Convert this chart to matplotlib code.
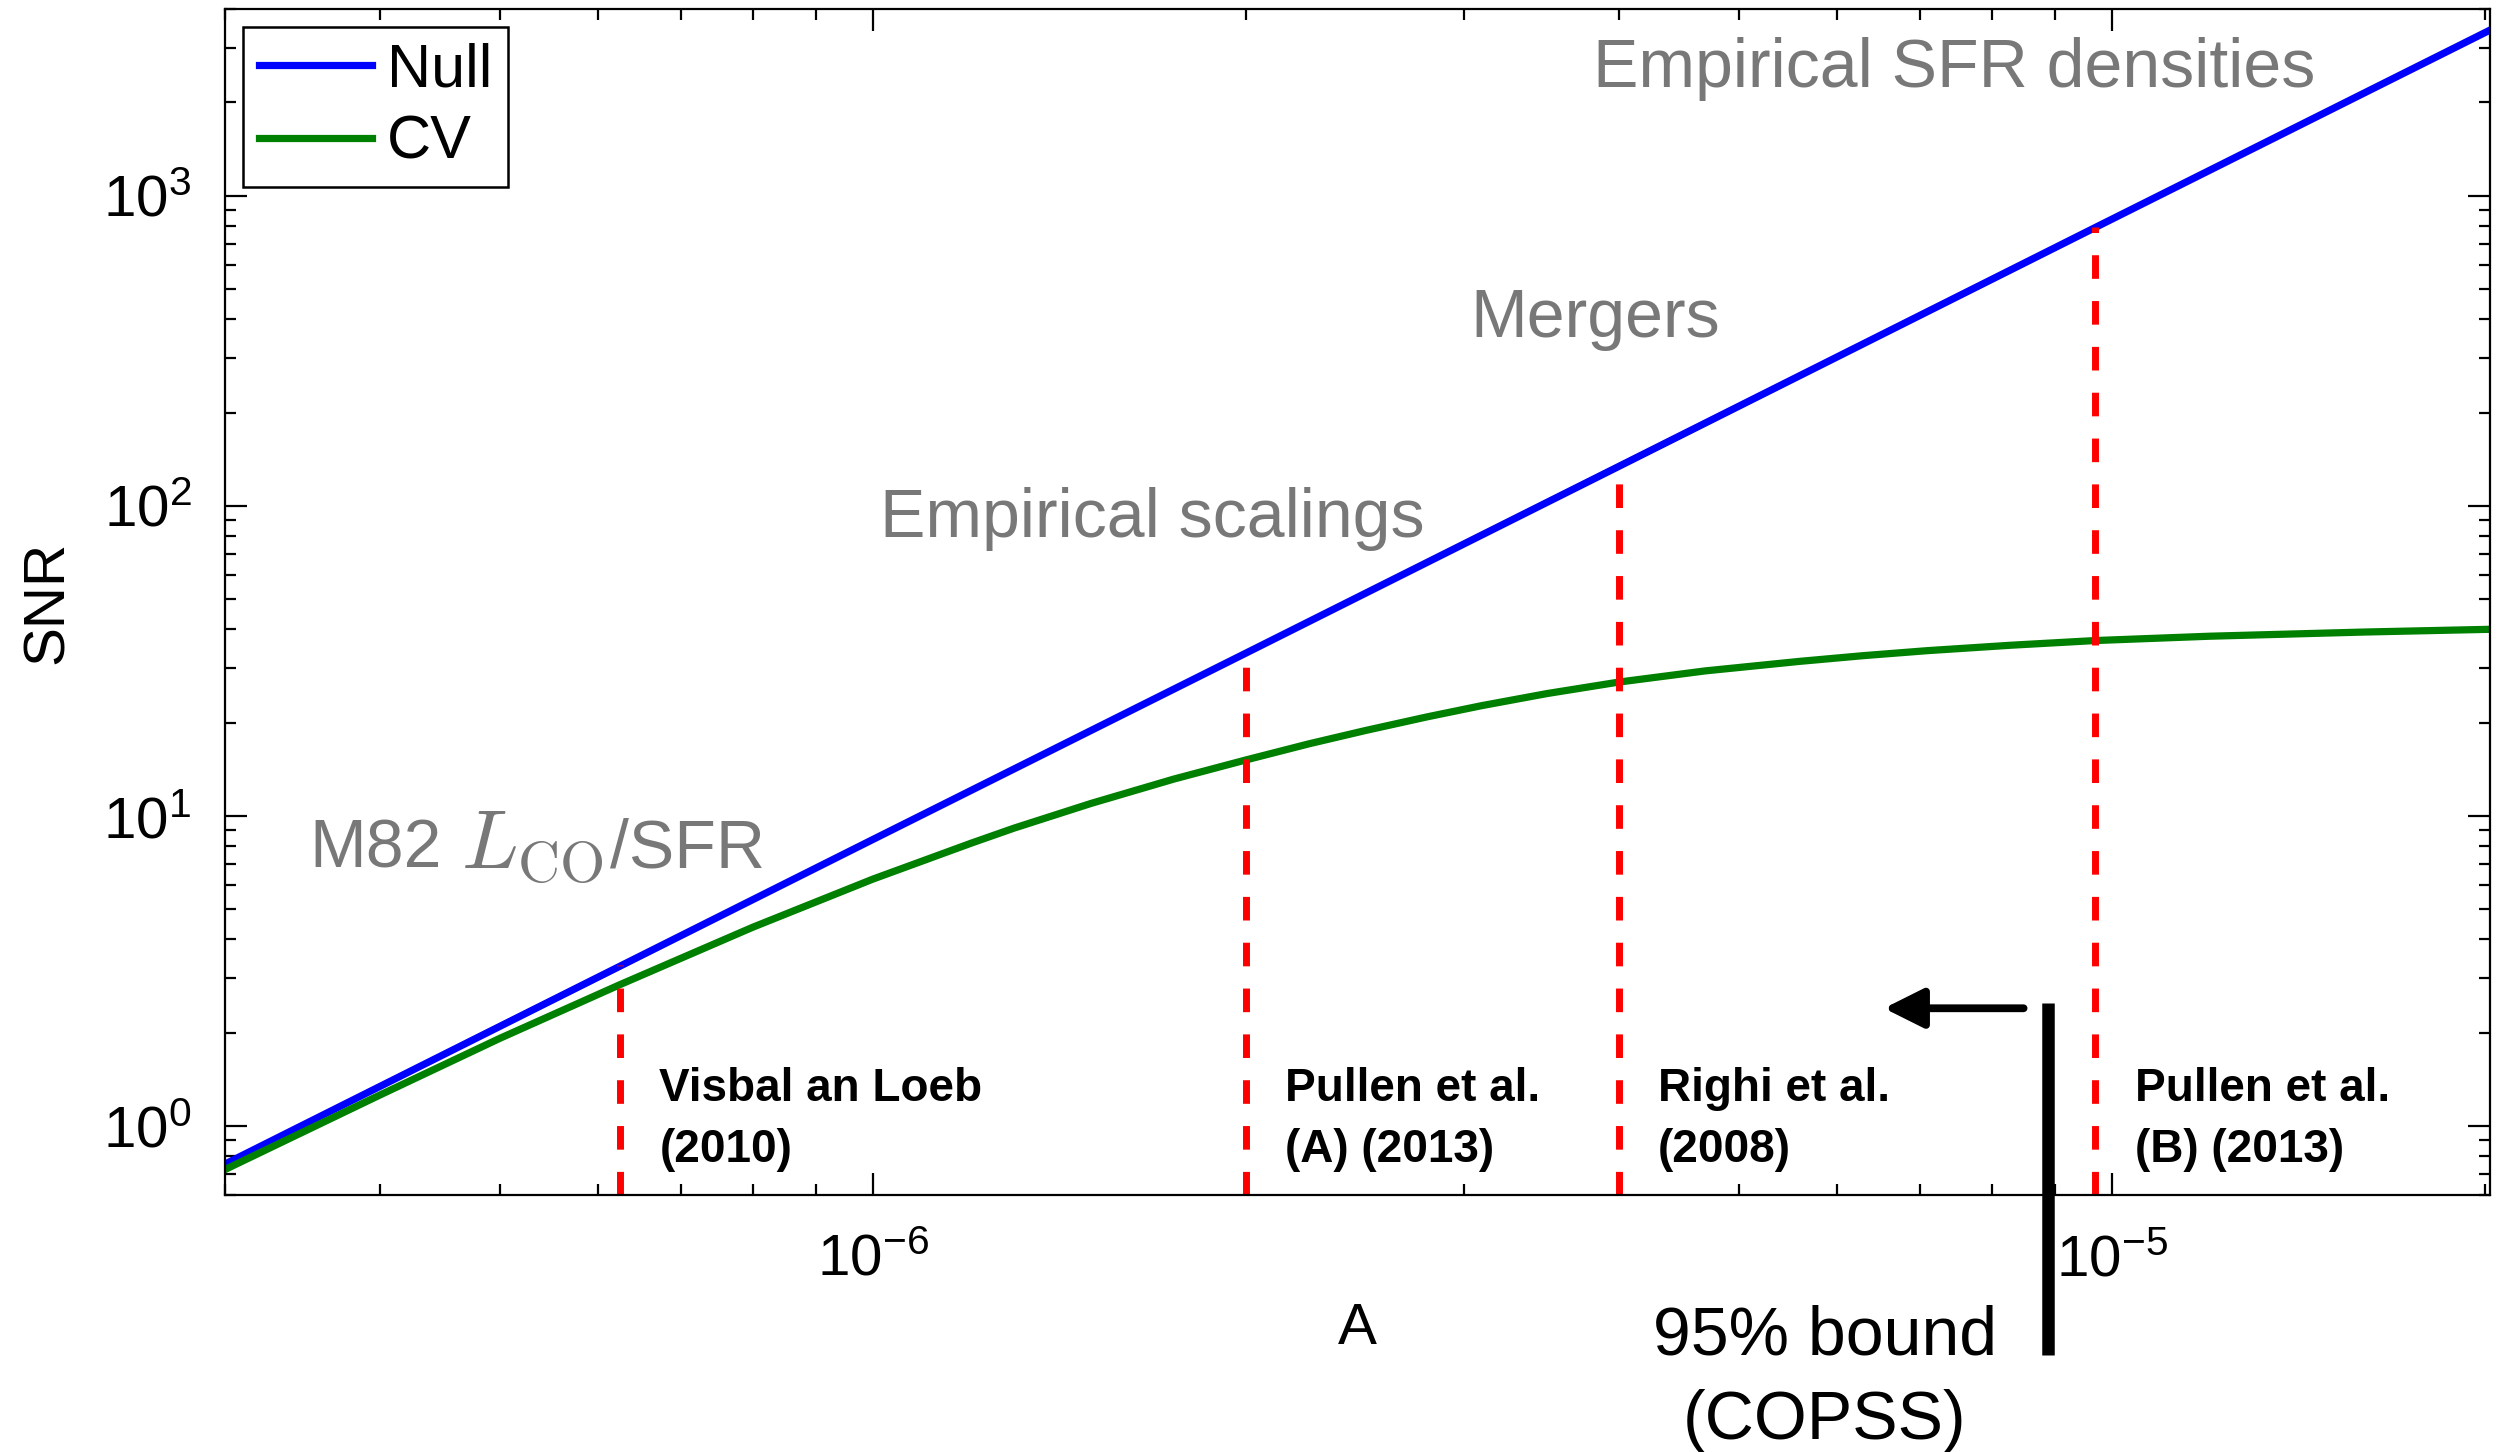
import matplotlib
matplotlib.use('Agg')
import matplotlib.pyplot as plt
from matplotlib.ticker import LogLocator, NullFormatter
from matplotlib.offsetbox import TextArea, DrawingArea, HPacker, AnnotationBbox

# values
a_null = [3.0e-7, 1.0e-6, 2.0e-6, 4.0e-6, 9.7e-6, 2.02e-5]
snr_null = [0.755, 8.4, 33.5, 134, 790, 3420]

a_cv = [3.0e-7, 4.0e-7, 5.0e-7, 6.25e-7, 8.0e-7, 1.0e-6, 1.2e-6, 1.3e-6,
        1.5e-6, 1.75e-6, 2.0e-6, 2.25e-6, 2.5e-6, 2.8e-6, 3.1e-6, 3.5e-6,
        4.0e-6, 4.7e-6, 5.6e-6, 6.3e-6, 7.1e-6, 8.3e-6, 9.7e-6, 1.2e-5,
        1.6e-5, 2.02e-5]
snr_cv = [0.725, 1.26, 1.92, 2.86, 4.38, 6.26, 8.17, 9.14,
          10.98, 13.16, 15.16, 17.1, 18.88, 20.87, 22.69, 24.82,
          27.03, 29.38, 31.53, 32.89, 34.14, 35.55, 36.8, 38.0,
          39.2, 40.0]

ref_a = [6.25e-7, 2.0e-6, 4.0e-6, 9.7e-6]
ref_top = [3.3, 33.5, 134, 790]
ref_line1 = ['Visbal an Loeb', 'Pullen et al.', 'Righi et al.', 'Pullen et al.']
ref_line2 = ['(2010)', '(A) (2013)', '(2008)', '(B) (2013)']

bound_a = 8.88e-6

plt.rcParams['font.family'] = ['Liberation Sans', 'DejaVu Sans']
plt.rcParams['mathtext.fontset'] = 'custom'
plt.rcParams['mathtext.rm'] = 'Liberation Sans'
plt.rcParams['mathtext.it'] = 'Liberation Sans:italic'
plt.rcParams['mathtext.bf'] = 'Liberation Sans:bold'

fig = plt.figure(figsize=(12.53, 7.26), dpi=200)
ax = fig.add_axes([0.0898, 0.1770, 0.9038, 0.8168])

ax.plot(a_null, snr_null, color='blue', lw=2.6, label='Null')
ax.plot(a_cv, snr_cv, color='#008000', lw=2.6, label='CV')

# literature values
for a, top, l1, l2 in zip(ref_a, ref_top, ref_line1, ref_line2):
    ax.plot([a, a], [0.6, top], color='red', lw=2.5,
            linestyle=(0, (3.4, 3.2)))
    ax.text(a * 1.076, 1.204, l1, fontsize=16.5, fontweight='bold',
            ha='left', va='baseline')
    ax.text(a * 1.076, 0.766, l2, fontsize=16.5, fontweight='bold',
            ha='left', va='baseline')

# COPSS bound
ax.plot([bound_a, bound_a], [2.49, 0.183], color='black', lw=4.5,
        clip_on=False, solid_capstyle='butt')
ax.annotate('', xy=(6.55e-6, 2.40), xytext=(8.49e-6, 2.40),
            arrowprops=dict(arrowstyle='-|>,head_length=0.6,head_width=0.3',
                            mutation_scale=20, lw=2.8, color='black',
                            shrinkA=0, shrinkB=0))
ax.text(5.87e-6, 0.183, '95% bound', fontsize=24.5, ha='center', va='baseline')
ax.text(5.87e-6, 0.098, '(COPSS)', fontsize=24.5, ha='center', va='baseline')

# model labels
gray = '0.47'
ax.text(7.46e-6, 2245, 'Empirical SFR densities', fontsize=24.5, color=gray,
        ha='center', va='baseline')
ax.text(3.83e-6, 351, 'Mergers', fontsize=24.5, color=gray,
        ha='center', va='baseline')
ax.text(1.68e-6, 79.6, 'Empirical scalings', fontsize=24.5, color=gray,
        ha='center', va='baseline')

m82 = HPacker(children=[
    TextArea('M82', textprops=dict(fontsize=24.5, color=gray)),
    DrawingArea(7, 0),
    TextArea(r'$L_{\rm CO}$', textprops=dict(fontsize=30, color=gray,
                                             math_fontfamily='cm')),
    DrawingArea(2, 0),
    TextArea('/SFR', textprops=dict(fontsize=24.5, color=gray)),
], align='baseline', pad=0, sep=0)
ax.add_artist(AnnotationBbox(m82, (3.51e-7, 6.0), xycoords='data',
                             box_alignment=(0, 0), frameon=False, pad=0))

ax.set_xscale('log')
ax.set_yscale('log')
ax.set_xlim(3.0e-7, 2.02e-5)
ax.set_ylim(0.6, 4000)

ax.xaxis.set_major_locator(LogLocator(base=10, numticks=20))
ax.xaxis.set_minor_locator(LogLocator(base=10, subs=range(2, 10), numticks=20))
ax.xaxis.set_minor_formatter(NullFormatter())
ax.yaxis.set_minor_locator(LogLocator(base=10, subs=range(2, 10), numticks=20))
ax.yaxis.set_minor_formatter(NullFormatter())

ax.tick_params(which='both', direction='in', top=True, right=True, width=0.8)
ax.tick_params(which='major', length=7.9, labelsize=21)
ax.tick_params(which='minor', length=4)
ax.tick_params(axis='y', which='major', pad=12)
ax.tick_params(axis='x', which='major', pad=14)
for s in ax.spines.values():
    s.set_linewidth(0.8)

ax.set_xlabel('A', fontsize=21, labelpad=5)
ax.set_ylabel('SNR', fontsize=21, labelpad=10)

leg = ax.legend(loc='upper left', fontsize=22, fancybox=False, edgecolor='black',
                framealpha=1, handlelength=1.85, handletextpad=0.25,
                borderpad=0.25, labelspacing=0.25, borderaxespad=0.3)
leg.get_frame().set_linewidth(0.9)

fig.savefig('out.png', dpi=200)
